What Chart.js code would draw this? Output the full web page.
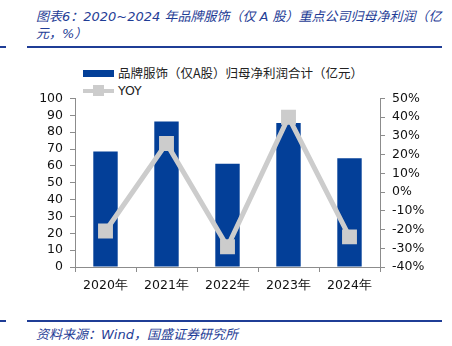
<!DOCTYPE html>
<html>
<head>
<meta charset="utf-8">
<script src="https://cdn.jsdelivr.net/npm/chart.js@4"></script>
<style>
  body { margin: 0; background: #fff; width: 452px; height: 346px; position: relative; overflow: hidden;
         font-family: "DejaVu Sans", "Noto Sans CJK SC", sans-serif; }
  .title { position: absolute; left: 36px; top: 8px; font-size: 13px; line-height: 17px; color: #1f3d96; font-style: italic; }
  .rule { position: absolute; height: 1.5px; background: #1f3d96; }
  .source { position: absolute; left: 36px; top: 324px; font-size: 13px; color: #1f3d96; font-style: italic; }
  .legend { position: absolute; left: 83px; top: 64px; font-size: 12.5px; color: #222; }
  .legend div { height: 18px; line-height: 18px; display: flex; align-items: center; }
  .sw-bar { width: 31px; height: 7px; background: #033f98; margin-right: 4px; }
  .sw-line { width: 31px; height: 4px; background: #cccccc; margin-right: 4px; position: relative; }
  .sw-line:after { content: ""; position: absolute; left: 10px; top: -4px; width: 11px; height: 11px; background: #cccccc; }
  #wrap { position: absolute; left: 0; top: 84px; width: 452px; height: 216px; }
</style>
</head>
<body>
<div class="title">图表6：2020~2024 年品牌服饰（仅 A 股）重点公司归母净利润（亿<br>元，%）</div>
<div class="rule" style="left:0;top:46px;width:6px"></div>
<div class="rule" style="left:27px;top:46px;width:415px"></div>
<div class="legend">
  <div><span class="sw-bar"></span><span style="font-family:'Noto Sans CJK SC'">品牌服饰（仅A股）归母净利润合计（亿元）</span></div>
  <div><span class="sw-line"></span><span>YOY</span></div>
</div>
<div id="wrap"><canvas id="chart"></canvas></div>
<div class="rule" style="left:0;top:320px;width:6px"></div>
<div class="rule" style="left:27px;top:320px;width:415px"></div>
<div class="source">资料来源：Wind，国盛证券研究所</div>
<script>
    const years = ['2020年', '2021年', '2022年', '2023年', '2024年'];
    const netProfit = [68.5, 86.3, 61.3, 85.4, 64.6];
    const yoy = [-20.8, 26, -29.2, 40, -23.9];

    const axisColor = '#8c8c8c';
    const tickFont = { family: 'DejaVu Sans', size: 12.5 };

    new Chart(document.getElementById('chart'), {
        type: 'bar',
        data: {
            labels: years,
            datasets: [{
                type: 'line',
                label: 'YOY',
                data: yoy,
                yAxisID: 'y1',
                borderColor: '#cccccc',
                backgroundColor: '#cccccc',
                borderWidth: 5,
                pointStyle: 'rect',
                pointRadius: 7,
                pointHoverRadius: 7,
                tension: 0,
                order: 0
            }, {
                label: '品牌服饰（仅A股）归母净利润合计（亿元）',
                data: netProfit,
                yAxisID: 'y',
                backgroundColor: '#033f98',
                barPercentage: 0.4,
                categoryPercentage: 1,
                order: 1
            }]
        },
        options: {
            responsive: true,
            maintainAspectRatio: false,
            animation: false,
            layout: { padding: { top: 1, left: 0, right: 0, bottom: 0 } },
            plugins: {
                legend: { display: false },
                tooltip: { enabled: false }
            },
            scales: {
                x: {
                    grid: { drawOnChartArea: false, offset: true, color: axisColor, tickLength: 5 },
                    border: { color: axisColor },
                    ticks: { color: '#111', font: tickFont, padding: 6, maxRotation: 0 },
                    afterFit: function (scale) { scale.height = 33; }
                },
                y: {
                    position: 'left',
                    min: 0,
                    max: 100,
                    grid: { drawOnChartArea: false, color: axisColor, tickLength: 5 },
                    border: { color: axisColor },
                    ticks: { stepSize: 10, autoSkip: false, color: '#111', font: tickFont, padding: 7 },
                    afterFit: function (scale) { scale.width = 75; }
                },
                y1: {
                    position: 'right',
                    min: -40,
                    max: 50,
                    grid: { drawOnChartArea: false, color: axisColor, tickLength: 5 },
                    border: { color: axisColor },
                    ticks: {
                        stepSize: 10, autoSkip: false, color: '#111', font: tickFont, padding: 7,
                        callback: function (value) { return value + '%'; }
                    },
                    afterFit: function (scale) { scale.width = 72; }
                }
            }
        }
    });
</script>
</body>
</html>
